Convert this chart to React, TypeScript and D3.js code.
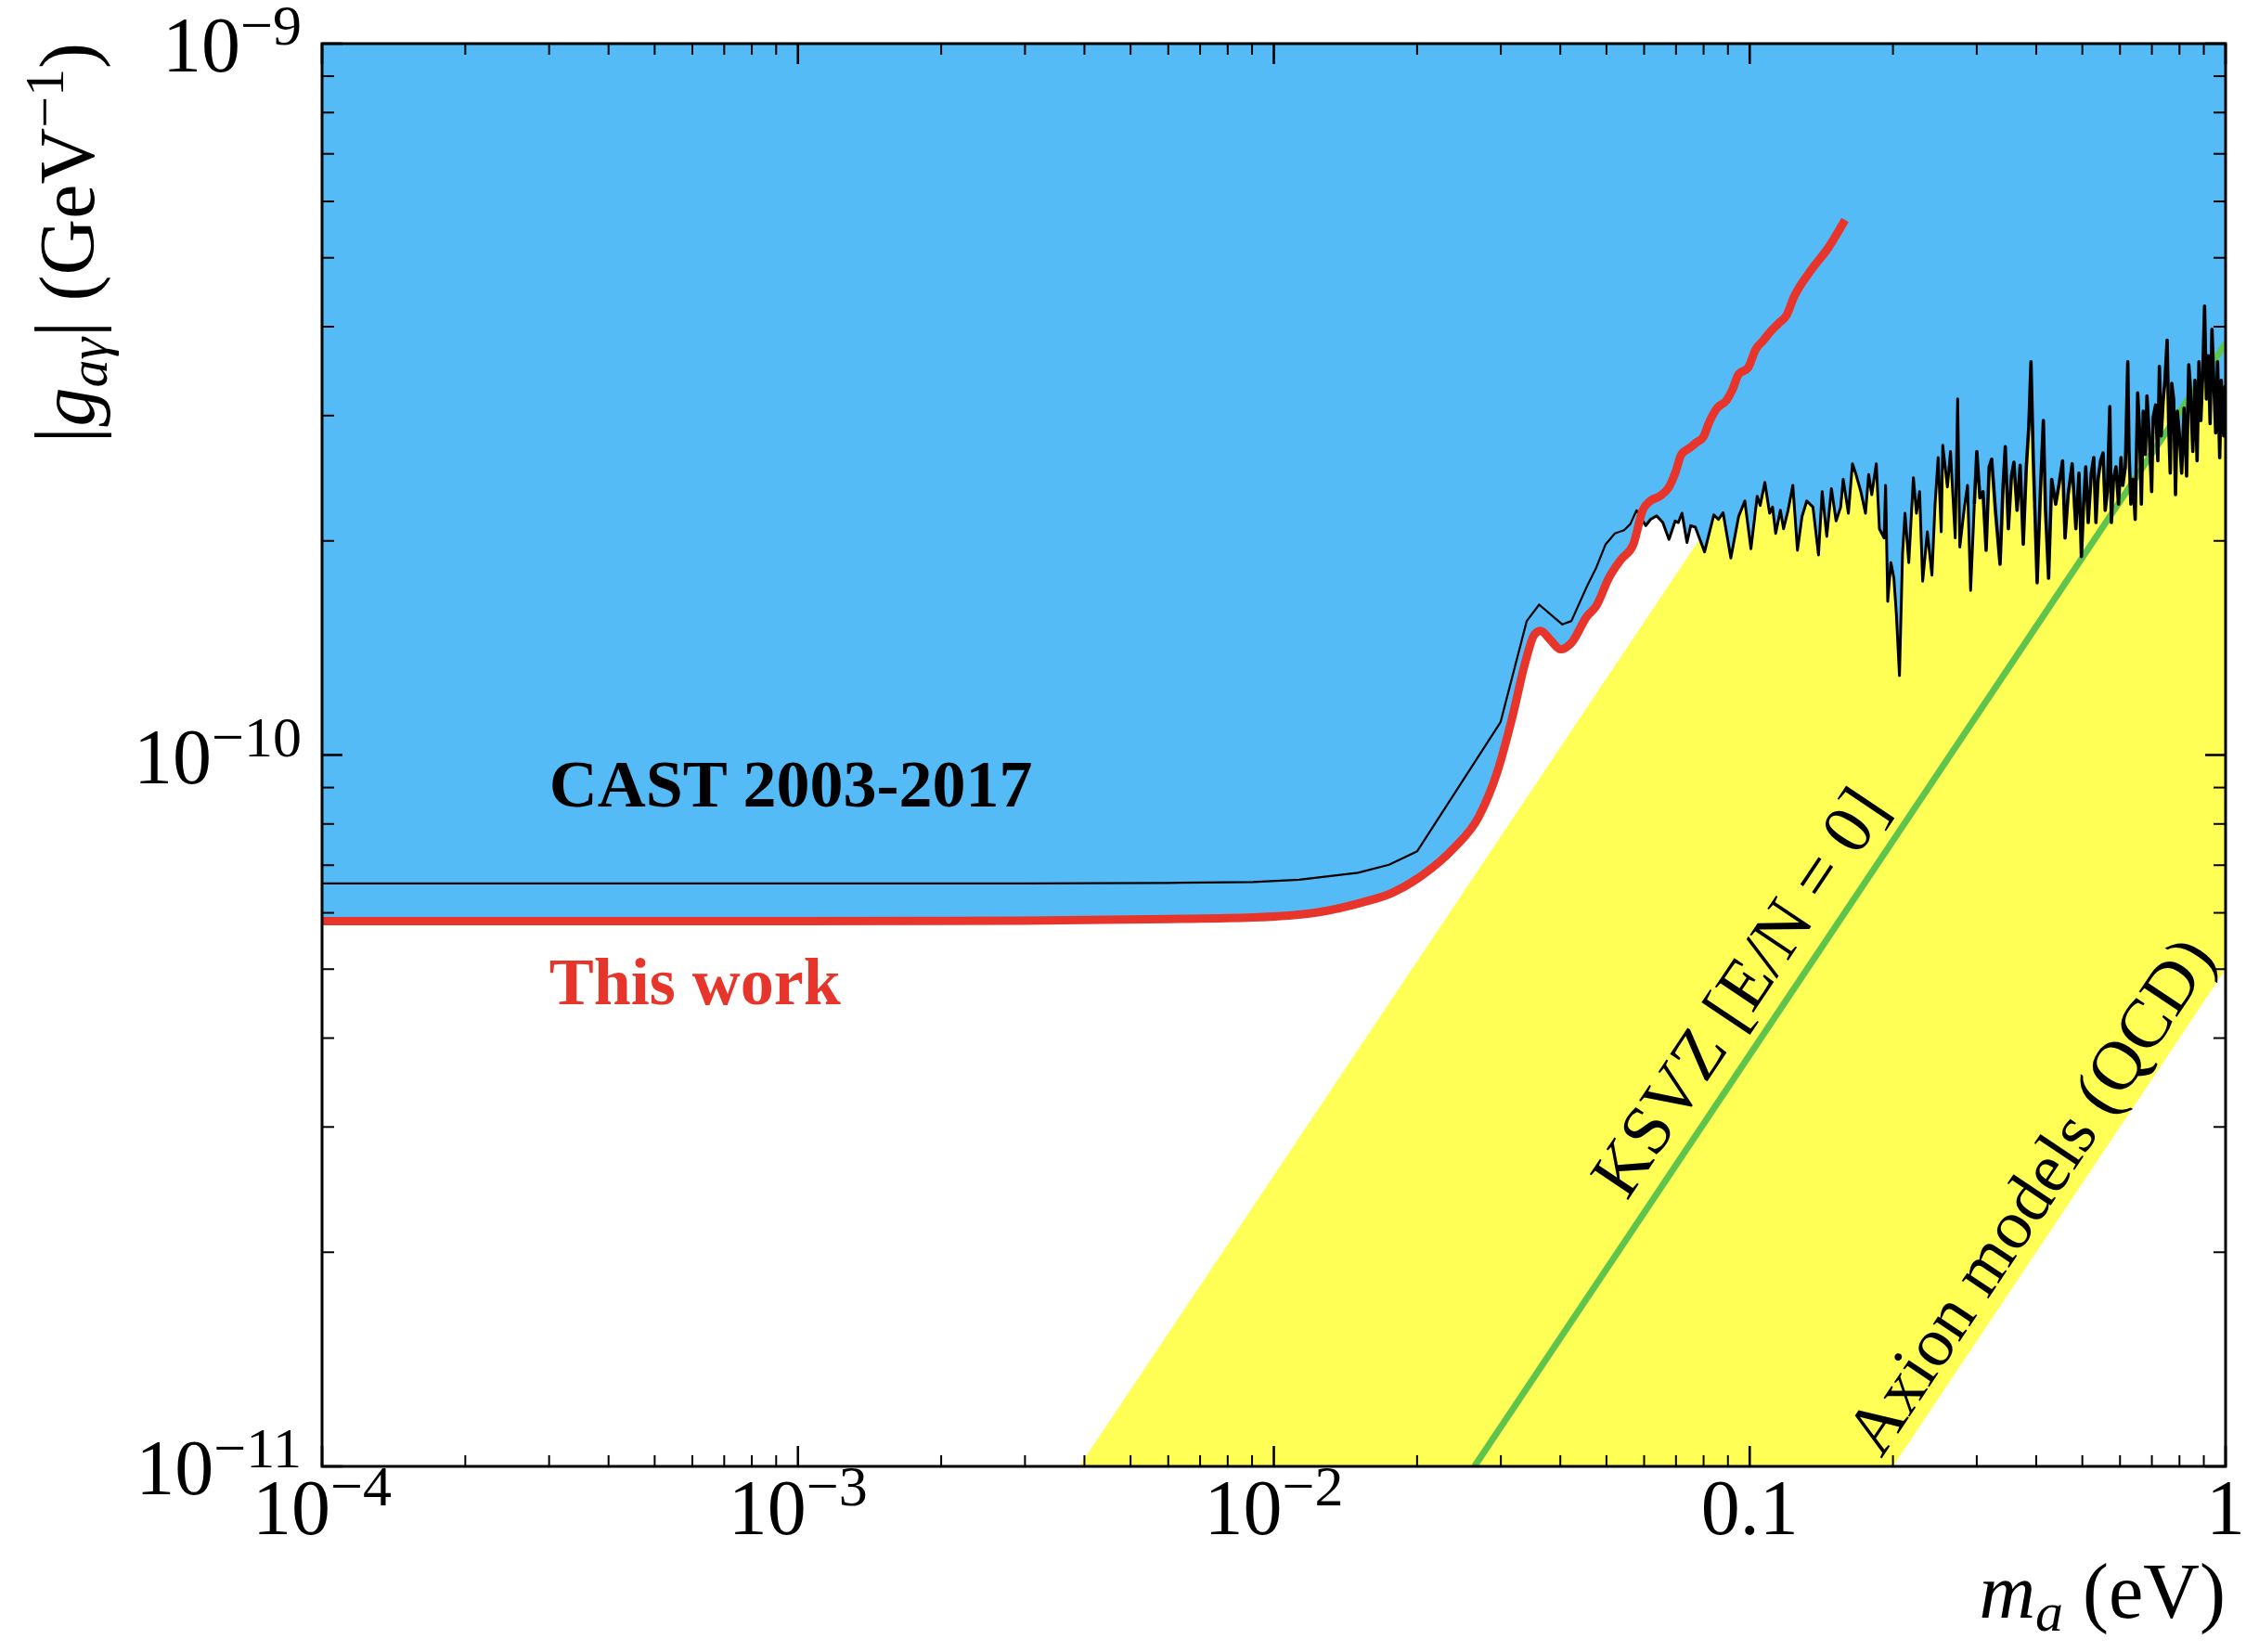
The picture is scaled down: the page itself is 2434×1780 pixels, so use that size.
import React, { useEffect, useRef } from "react";
import * as d3 from "d3";

// axion mass m_a in eV, coupling |g_ag| in units of 1e-10 GeV^-1
const castMass = [
  1e-4, 1e-3, 3e-3, 6e-3, 0.00904, 0.01131, 0.01503, 0.01746, 0.02, 0.02995,
  0.034, 0.0361, 0.0404, 0.0422, 0.0455,
  0.04761, 0.0498, 0.05208, 0.05447, 0.05613, 0.05783, 0.0587, 0.06049, 0.06185, 0.06373,
  0.06567, 0.06767, 0.06973, 0.07079, 0.07207, 0.07382, 0.07516, 0.07686, 0.08038, 0.08407,
  0.08598, 0.08793, 0.09128, 0.09478, 0.09766, 0.1006, 0.1037, 0.1052, 0.1076, 0.1101,
  0.1117, 0.1134, 0.116, 0.1178, 0.1204, 0.1232, 0.126, 0.1288, 0.1318, 0.1358,
  0.1395, 0.142, 0.1452, 0.1485, 0.1519, 0.1553, 0.1572, 0.1612, 0.1644, 0.1669,
  0.1712, 0.1751, 0.1778, 0.1805, 0.1845, 0.1873, 0.1916, 0.193, 0.195, 0.198,
  0.2009, 0.2033, 0.2064, 0.2095, 0.212, 0.2159, 0.2208, 0.2241, 0.2275, 0.2309,
  0.2362, 0.2415, 0.2452, 0.2489, 0.2526, 0.2545, 0.2603, 0.2642, 0.2703, 0.2735,
  0.2764, 0.2826,
  0.2869, 0.2912, 0.2965, 0.3001, 0.3046, 0.3092, 0.3139, 0.3186, 0.3225, 0.3283,
  0.3358, 0.3408, 0.3444, 0.3496, 0.3548, 0.3591, 0.3646, 0.3701, 0.3757, 0.3813,
  0.3859, 0.39, 0.3941, 0.4018, 0.4079, 0.4141, 0.4184, 0.4247, 0.4311, 0.4396,
  0.4463, 0.4544, 0.4599, 0.4668, 0.476, 0.4846, 0.4919, 0.4978,
  0.5031, 0.5083, 0.5144, 0.5222, 0.5284, 0.534, 0.5396, 0.5461, 0.5527, 0.5585,
  0.5643, 0.5711, 0.5754, 0.5814, 0.5884, 0.5957, 0.6028, 0.6082, 0.6156, 0.623,
  0.6267, 0.6324, 0.6391, 0.6457, 0.6535, 0.6594, 0.6653, 0.6714, 0.6785, 0.6836,
  0.6918, 0.6992, 0.7044, 0.7129, 0.7205, 0.7259, 0.7324, 0.739, 0.7457, 0.7536,
  0.7593, 0.765, 0.7707, 0.7777, 0.7848, 0.7918, 0.8001, 0.8085, 0.8182, 0.8281,
  0.8368, 0.8431, 0.8533, 0.8622, 0.8712, 0.8791, 0.8872, 0.8952, 0.9032, 0.9114,
  0.9196, 0.9279, 0.9363, 0.9447, 0.9532, 0.9618, 0.9719, 0.9792, 0.991, 0.997, 1.0,
];
const castG = [
  0.66, 0.66, 0.66, 0.661, 0.663, 0.668, 0.683, 0.701, 0.732, 1.112,
  1.543, 1.627, 1.526, 1.543, 1.726,
  1.835, 1.978, 2.049, 2.07, 2.112, 2.208, 2.164, 2.101, 2.143, 2.169,
  2.122, 2.009, 2.133, 2.122, 2.187, 1.989, 2.101, 2.091, 1.93, 2.176,
  2.143, 2.191, 1.892, 2.164, 2.276, 1.95, 2.311, 2.243, 2.417, 2.187,
  2.231, 2.049, 2.208, 2.08, 2.208, 2.393, 1.94, 2.164, 2.276, 2.231,
  1.911, 2.346, 2.029, 2.369, 2.133, 2.231, 2.441, 2.187, 2.567, 2.491,
  2.346, 2.187, 2.479, 2.323, 2.567, 2.08, 2.019, 2.393, 1.644, 1.864,
  1.772, 1.58, 1.293, 1.92, 2.187, 1.864, 2.454, 2.187, 2.346, 1.755,
  2.059, 1.79, 2.253, 2.619, 2.059, 2.725, 2.381, 2.671, 2.019, 3.166,
  1.96, 2.231,
  2.393, 1.703, 2.253, 2.671, 2.299, 2.345, 1.94, 2.541, 2.605, 2.208,
  1.854, 2.393, 2.712, 2.08, 2.466, 2.579, 2.208, 2.554, 1.978, 2.541,
  2.893, 3.571, 2.645, 1.746, 2.322, 2.952, 2.208, 1.772, 2.441, 2.253,
  2.393, 2.592, 2.019, 2.322, 2.567, 2.08, 2.49, 1.901,
  2.253, 2.541, 2.122, 2.49, 2.618, 2.122, 2.441, 2.592, 2.658, 2.208,
  2.345, 3.088, 2.122, 2.441, 2.541, 2.253, 2.618, 2.393, 2.541, 3.571,
  2.671, 2.253, 2.441, 2.143, 3.229, 2.866, 2.253, 3.042, 2.645, 3.198,
  2.781, 2.345, 2.981, 3.104, 2.592, 3.518, 2.809, 3.135, 3.362, 3.829,
  2.923, 2.49, 3.329, 3.166, 2.322, 3.042, 2.809, 2.49, 3.072, 2.466,
  3.536, 3.296, 2.671, 3.362, 2.592, 3.571, 2.952, 3.43, 4.276, 3.166,
  3.642, 2.923, 3.966, 3.329, 2.837, 3.571, 2.618, 3.362, 2.809, 3.296, 2.9,
];

const thisWorkMass = [
  1e-4, 1e-3, 3e-3, 6e-3, 0.00904, 0.0122, 0.01527, 0.01772, 0.0206, 0.0239,
  0.02696, 0.02949, 0.03178, 0.03375, 0.03529, 0.03636, 0.03803, 0.04008, 0.04222, 0.04551,
  0.0476, 0.05054, 0.05365, 0.05696, 0.05958, 0.06185, 0.06471, 0.06768, 0.06974, 0.07186,
  0.0746, 0.07745, 0.0798, 0.08222, 0.08535, 0.08927, 0.09199, 0.09478, 0.09913, 0.1029,
  0.1069, 0.1109, 0.1151, 0.1195, 0.1239, 0.1337, 0.1463, 0.1586,
];
const thisWorkG = [
  0.584, 0.584, 0.585, 0.588, 0.591, 0.6, 0.62, 0.64, 0.679, 0.74,
  0.819, 0.947, 1.137, 1.349, 1.477, 1.494, 1.454, 1.408, 1.438, 1.567,
  1.62, 1.772, 1.883, 1.978, 2.208, 2.276, 2.311, 2.381, 2.491, 2.645,
  2.698, 2.753, 2.795, 2.937, 3.072, 3.15, 3.263, 3.43, 3.499, 3.715,
  3.829, 3.946, 4.046, 4.15, 4.405, 4.777, 5.166, 5.65,
];

// KSVZ [E/N = 0] line
const ksvzMass = [0.0264, 1];
const ksvzG = [0.1, 3.79];

// QCD axion band edges
const bandLeftMass = [0.0039, 0.39];
const bandLeftG = [0.1, 10];
const bandRightMass = [0.2, 1];
const bandRightG = [0.1, 0.5];

const xTicks = [1e-4, 1e-3, 1e-2, 0.1, 1];
const xTickLabels = [["10", "\u22124"], ["10", "\u22123"], ["10", "\u22122"], ["0.1", ""], ["1", ""]];
const yTicks = [1e-11, 1e-10, 1e-9];
const yTickLabels = [["10", "\u221211"], ["10", "\u221210"], ["10", "\u22129"]];

const FONT = "'Liberation Serif', 'Times New Roman', serif";

const App: React.FC = () => {
  const svgRef = useRef<SVGSVGElement>(null);

  useEffect(() => {
    if (!svgRef.current) return;
    const W = 2434;
    const H = 1780;
    const left = 347, right = 2398, top = 47, bottom = 1580;

    const svg = d3.select(svgRef.current).attr("width", W).attr("height", H);
    svg.selectAll("*").remove();

    const x = d3.scaleLog().domain([1e-4, 1]).range([left, right]);
    const y = d3.scaleLog().domain([1e-11, 1e-9]).range([bottom, top]);
    const gy = (v: number) => y(v * 1e-10);

    svg.append("defs").append("clipPath").attr("id", "plotclip")
      .append("rect").attr("x", left).attr("y", top)
      .attr("width", right - left).attr("height", bottom - top);

    const plot = svg.append("g").attr("clip-path", "url(#plotclip)");

    // yellow axion band
    const band: [number, number][] = [
      [x(bandLeftMass[0]), gy(bandLeftG[0])],
      [x(bandRightMass[0]), gy(bandRightG[0])],
      [x(bandRightMass[1]), gy(bandRightG[1])],
      [x(1), y(1e-9)],
      [x(bandLeftMass[1]), gy(bandLeftG[1])],
    ];
    plot.append("path")
      .attr("d", "M" + band.map((p) => p.join(",")).join("L") + "Z")
      .attr("fill", "#ffff55");

    const cast = castMass.map((m, i) => [m, castG[i]] as [number, number]);
    const work = thisWorkMass.map((m, i) => [m, thisWorkG[i]] as [number, number]);

    // excluded regions (blue)
    const area = d3.area<[number, number]>()
      .x((d) => x(d[0]))
      .y0(top)
      .y1((d) => gy(d[1]));
    plot.append("path").datum(cast).attr("d", area).attr("fill", "#55bbf7");
    plot.append("path").datum(work)
      .attr("d", area.curve(d3.curveMonotoneX))
      .attr("fill", "#55bbf7");

    // KSVZ line
    plot.append("line")
      .attr("x1", x(ksvzMass[0])).attr("y1", gy(ksvzG[0]))
      .attr("x2", x(ksvzMass[1])).attr("y2", gy(ksvzG[1]))
      .attr("stroke", "#5ec44e").attr("stroke-width", 7);

    // CAST 2003-2017: thin where smooth, heavier where noisy
    const line = d3.line<[number, number]>()
      .x((d) => x(d[0]))
      .y((d) => gy(d[1]));
    plot.append("path").datum(cast.filter((d) => d[0] <= 0.06))
      .attr("d", line)
      .attr("fill", "none").attr("stroke", "#000").attr("stroke-width", 2.2)
      .attr("stroke-linejoin", "round");
    plot.append("path").datum(cast.filter((d) => d[0] >= 0.058 && d[0] <= 0.3))
      .attr("d", line)
      .attr("fill", "none").attr("stroke", "#000").attr("stroke-width", 3)
      .attr("stroke-linejoin", "round");
    plot.append("path").datum(cast.filter((d) => d[0] >= 0.2965))
      .attr("d", line)
      .attr("fill", "none").attr("stroke", "#000").attr("stroke-width", 3.6)
      .attr("stroke-linejoin", "round");

    // this work
    plot.append("path").datum(work)
      .attr("d", line.curve(d3.curveMonotoneX))
      .attr("fill", "none").attr("stroke", "#e8352b").attr("stroke-width", 9)
      .attr("stroke-linejoin", "round");

    // frame
    svg.append("rect")
      .attr("x", left).attr("y", top)
      .attr("width", right - left).attr("height", bottom - top)
      .attr("fill", "none").attr("stroke", "#000").attr("stroke-width", 3);

    // ticks
    const ticks = svg.append("g").attr("stroke", "#000");
    const xMinor: number[] = [];
    for (let e = -4; e < 0; e++) for (let k = 2; k <= 9; k++) xMinor.push(k * Math.pow(10, e));
    const yMinor: number[] = [];
    for (let e = -11; e < -9; e++) for (let k = 2; k <= 9; k++) yMinor.push(k * Math.pow(10, e));

    const drawX = (vals: number[], len: number, sw: number) => {
      vals.forEach((v) => {
        ticks.append("line").attr("x1", x(v)).attr("x2", x(v))
          .attr("y1", bottom).attr("y2", bottom - len).attr("stroke-width", sw);
        ticks.append("line").attr("x1", x(v)).attr("x2", x(v))
          .attr("y1", top).attr("y2", top + len).attr("stroke-width", sw);
      });
    };
    const drawY = (vals: number[], len: number, sw: number) => {
      vals.forEach((v) => {
        ticks.append("line").attr("y1", y(v)).attr("y2", y(v))
          .attr("x1", left).attr("x2", left + len).attr("stroke-width", sw);
        ticks.append("line").attr("y1", y(v)).attr("y2", y(v))
          .attr("x1", right).attr("x2", right - len).attr("stroke-width", sw);
      });
    };
    drawX(xMinor, 12, 2);
    drawX(xTicks, 22, 2.6);
    drawY(yMinor, 13, 2);
    drawY(yTicks, 22, 2.6);

    // tick labels
    xTicks.forEach((v, i) => {
      const t = svg.append("text")
        .attr("x", x(v)).attr("y", bottom + 73)
        .attr("text-anchor", "middle")
        .attr("font-family", FONT).attr("font-size", 84);
      t.append("tspan").text(xTickLabels[i][0]);
      if (xTickLabels[i][1]) {
        t.append("tspan").attr("dy", -31).attr("font-size", 62).text(xTickLabels[i][1]);
      }
    });
    yTicks.forEach((v, i) => {
      const t = svg.append("text")
        .attr("x", 325).attr("y", y(v) + 30)
        .attr("text-anchor", "end")
        .attr("font-family", FONT).attr("font-size", 84);
      t.append("tspan").text(yTickLabels[i][0]);
      t.append("tspan").attr("dy", -29).attr("font-size", 62).text(yTickLabels[i][1]);
    });

    // axis titles
    const xt = svg.append("text")
      .attr("x", right).attr("y", 1743)
      .attr("text-anchor", "end")
      .attr("font-family", FONT).attr("font-size", 84);
    xt.append("tspan").attr("font-style", "italic").text("m");
    xt.append("tspan").attr("font-style", "italic").attr("font-size", 60).attr("dy", 14).text("a");
    xt.append("tspan").attr("dy", -14).text(" (eV)");

    const yt = svg.append("text")
      .attr("transform", `translate(101,46) rotate(-90)`)
      .attr("text-anchor", "end")
      .attr("font-family", FONT).attr("font-size", 84);
    yt.append("tspan").attr("font-size", 92).text("|");
    yt.append("tspan").attr("font-style", "italic").text("g");
    yt.append("tspan").attr("font-style", "italic").attr("font-size", 60).attr("dy", 14).text("a\u03b3");
    yt.append("tspan").attr("dy", -14).attr("font-size", 92).text("|");
    yt.append("tspan").text(" (GeV");
    yt.append("tspan").attr("font-size", 60).attr("dy", -33).text("\u22121");
    yt.append("tspan").attr("dy", 33).text(")");

    // in-plot labels
    svg.append("text")
      .attr("x", x(3.0e-4)).attr("y", 869)
      .attr("font-family", FONT).attr("font-size", 72).attr("font-weight", "bold")
      .attr("fill", "#000")
      .text("CAST 2003-2017");
    svg.append("text")
      .attr("x", x(3.0e-4)).attr("y", 1082)
      .attr("font-family", FONT).attr("font-size", 72).attr("font-weight", "bold")
      .attr("fill", "#e8352b")
      .text("This work");

    const ang = (Math.atan2(y(1e-11) - y(1e-10), x(1) - x(0.1)) * 180) / Math.PI;
    const ksvzAt = 0.1132;
    const ksvzSlope = ksvzG[1] / ksvzMass[1];
    svg.append("text")
      .attr("transform", `translate(${x(ksvzAt)},${gy(ksvzSlope * ksvzAt)}) rotate(${-ang})`)
      .attr("y", -22)
      .attr("text-anchor", "middle")
      .attr("font-family", FONT).attr("font-size", 76)
      .text("KSVZ [E/N = 0]");
    const axAt = 0.4497;
    const bandSlope = bandRightG[1] / bandRightMass[1];
    svg.append("text")
      .attr("transform", `translate(${x(axAt)},${gy(bandSlope * axAt)}) rotate(${-ang})`)
      .attr("y", -15)
      .attr("text-anchor", "middle")
      .attr("font-family", FONT).attr("font-size", 75)
      .text("Axion models (QCD)");
  }, []);

  return (
    <svg
      ref={svgRef}
      style={{ position: "absolute", left: 0, top: 0, display: "block", background: "#fff" }}
    ></svg>
  );
};

export default App;
